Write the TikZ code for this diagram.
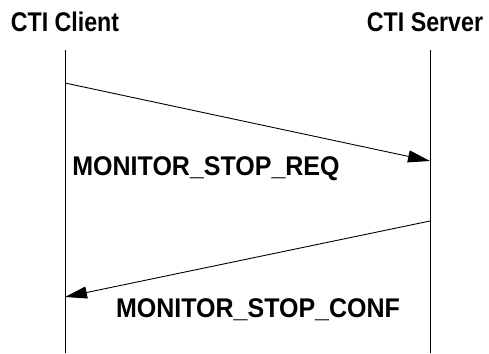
\documentclass[tikz,border=0pt]{standalone}
\usepackage{fontspec}
\setmainfont{Liberation Sans}
\usetikzlibrary{arrows.meta}
\begin{document}
\begin{tikzpicture}[x=1pt,y=-1pt,
  life/.style={line width=0.9pt},
  msg/.style={line width=0.9pt,-{Triangle[length=22pt,width=12pt]}},
  title/.style={font=\fontsize{27}{27}\selectfont\bfseries,inner sep=0pt,anchor=base,xscale=0.86},
  lbl/.style={font=\fontsize{25}{25}\selectfont\bfseries,inner sep=0pt,anchor=base,yscale=1.08}]
\useasboundingbox (0,0) rectangle (489,353);
\node[title] (client) at (65,32) {CTI Client};
\node[title] (server) at (425,32) {CTI Server};
\coordinate (c0) at (65,50);
\coordinate (c1) at (65,353);
\coordinate (s0) at (430,50);
\coordinate (s1) at (430,353);
\draw[life] (c0) -- (c1);
\draw[life] (s0) -- (s1);
\coordinate (a1s) at (65,83);
\coordinate (a1e) at (430,161);
\coordinate (a2s) at (430,221);
\coordinate (a2e) at (65,297);
\draw[msg] (a1s) -- (a1e);
\draw[msg] (a2s) -- (a2e);
\node[lbl] (req) at (206,175) {MONITOR\_STOP\_REQ};
\node[lbl] (conf) at (258,317) {MONITOR\_STOP\_CONF};
\end{tikzpicture}
\end{document}
